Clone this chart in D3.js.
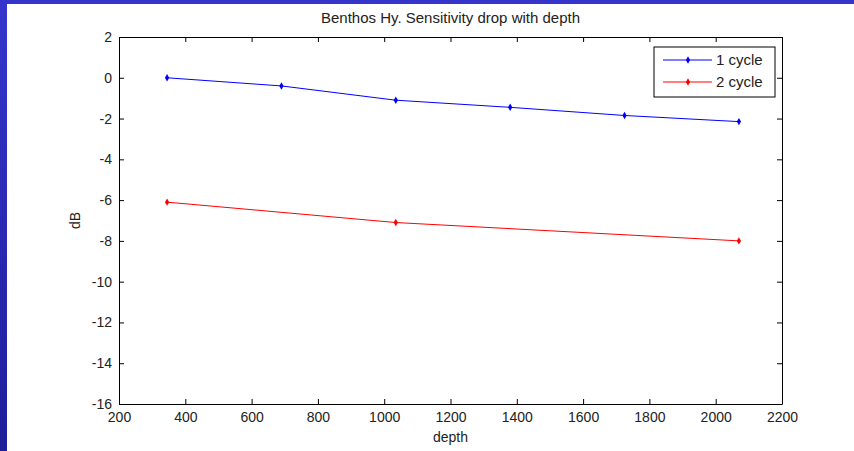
<!DOCTYPE html>
<html>
<head>
<meta charset="utf-8">
<script src="https://d3js.org/d3.v7.min.js"></script>
<style>
  body { margin: 0; padding: 0; background: #3232c8; }
  svg { display: block; }
</style>
</head>
<body>
<div id="container"></div>
<script>
// values
let depth1 = [345, 690, 1035, 1380, 1725, 2070];
let cycle1 = [0, -0.4, -1.1, -1.45, -1.85, -2.15];
let depth2 = [345, 1035, 2070];
let cycle2 = [-6.1, -7.1, -8.0];
let xTicks = [200, 400, 600, 800, 1000, 1200, 1400, 1600, 1800, 2000, 2200];
let yTicks = [2, 0, -2, -4, -6, -8, -10, -12, -14, -16];
let seriesNames = ["1 cycle", "2 cycle"];
let seriesColors = ["#0000ff", "#ff0000"];

let w = 854;
let h = 451;
let plotLeft = 119, plotRight = 782, plotTop = 37, plotBottom = 404;
let font = "'Liberation Sans', Arial, sans-serif";

let viz = d3.select("#container")
  .append("svg")
    .attr("width", w)
    .attr("height", h)
;

// slide background
let defs = viz.append("defs");
let grad = defs.append("linearGradient")
    .attr("id", "bg")
    .attr("x1", 0).attr("y1", 0).attr("x2", 0).attr("y2", 1);
grad.append("stop").attr("offset", "0%").attr("stop-color", "#3535cc");
grad.append("stop").attr("offset", "100%").attr("stop-color", "#1e1e9a");
viz.append("rect").attr("width", w).attr("height", h).attr("fill", "url(#bg)");
viz.append("rect").attr("x", 7).attr("y", 4).attr("width", w - 7).attr("height", h - 4).attr("fill", "#ffffff");

let xScale = d3.scaleLinear().domain([200, 2200]).range([plotLeft, plotRight]);
let yScale = d3.scaleLinear().domain([-16, 2]).range([plotBottom, plotTop]);

// plain labels, hyphen minus and no thousands comma like MATLAB
function plain(d){ return String(d); }

// axes, MATLAB style: ticks inside, box on all sides
let xAxis = d3.axisBottom(xScale).tickValues(xTicks).tickFormat(plain).tickSizeInner(-5).tickSizeOuter(0).tickPadding(8);
let yAxis = d3.axisLeft(yScale).tickValues(yTicks).tickFormat(plain).tickSizeInner(-5).tickSizeOuter(0).tickPadding(7);
let xAxisTop = d3.axisTop(xScale).tickValues(xTicks).tickSizeInner(-5).tickSizeOuter(0).tickFormat("");
let yAxisRight = d3.axisRight(yScale).tickValues(yTicks).tickSizeInner(-5).tickSizeOuter(0).tickFormat("");

function styleAxis(g) {
  g.select(".domain").attr("stroke", "#000").attr("stroke-width", 1);
  g.selectAll(".tick line").attr("stroke", "#000");
  g.selectAll(".tick text")
    .attr("font-family", font)
    .attr("font-size", 14)
    .attr("fill", "#222");
}

viz.append("g").attr("transform", "translate(0," + plotBottom + ")").call(xAxis).call(styleAxis);
viz.append("g").attr("transform", "translate(" + plotLeft + ",0)").call(yAxis).call(styleAxis);
viz.append("g").attr("transform", "translate(0," + plotTop + ")").call(xAxisTop).call(styleAxis);
viz.append("g").attr("transform", "translate(" + plotRight + ",0)").call(yAxisRight).call(styleAxis);

// lines
let series = [
  depth1.map(function(d, i){ return { x: d, y: cycle1[i] }; }),
  depth2.map(function(d, i){ return { x: d, y: cycle2[i] }; })
];

let lineMaker = d3.line()
  .x(function(d){ return xScale(d.x); })
  .y(function(d){ return yScale(d.y); })
;

series.forEach(function(s, i){
  viz.append("path")
    .datum(s)
    .attr("d", lineMaker)
    .attr("fill", "none")
    .attr("stroke", seriesColors[i])
    .attr("stroke-width", 1);
  viz.selectAll(".pt" + i)
    .data(s)
    .enter()
    .append("path")
      .attr("class", "pt" + i)
      .attr("d", d3.symbol().type(d3.symbolDiamond).size(16))
      .attr("transform", function(d){ return "translate(" + xScale(d.x) + "," + yScale(d.y) + ")"; })
      .attr("fill", seriesColors[i]);
});

// title and axis labels
viz.append("text")
  .attr("x", (plotLeft + plotRight) / 2).attr("y", 23)
  .attr("text-anchor", "middle")
  .attr("font-family", font).attr("font-size", 15).attr("fill", "#222")
  .text("Benthos Hy. Sensitivity drop with depth");

viz.append("text")
  .attr("x", (plotLeft + plotRight) / 2).attr("y", 442)
  .attr("text-anchor", "middle")
  .attr("font-family", font).attr("font-size", 14).attr("fill", "#222")
  .text("depth");

viz.append("text")
  .attr("transform", "translate(80," + ((plotTop + plotBottom) / 2) + ") rotate(-90)")
  .attr("text-anchor", "middle")
  .attr("font-family", font).attr("font-size", 14).attr("fill", "#222")
  .text("dB");

// legend
let legend = viz.append("g").attr("transform", "translate(654,47)");
legend.append("rect")
  .attr("width", 121).attr("height", 50)
  .attr("fill", "#fff").attr("stroke", "#000").attr("stroke-width", 1);
seriesNames.forEach(function(name, i){
  let ly = 13 + i * 22;
  legend.append("line")
    .attr("x1", 9).attr("x2", 58).attr("y1", ly).attr("y2", ly)
    .attr("stroke", seriesColors[i]);
  legend.append("path")
    .attr("d", d3.symbol().type(d3.symbolDiamond).size(16))
    .attr("transform", "translate(34," + ly + ")")
    .attr("fill", seriesColors[i]);
  legend.append("text")
    .attr("x", 62).attr("y", ly + 5)
    .attr("font-family", font).attr("font-size", 15).attr("fill", "#222")
    .text(name);
});
</script>
</body>
</html>
